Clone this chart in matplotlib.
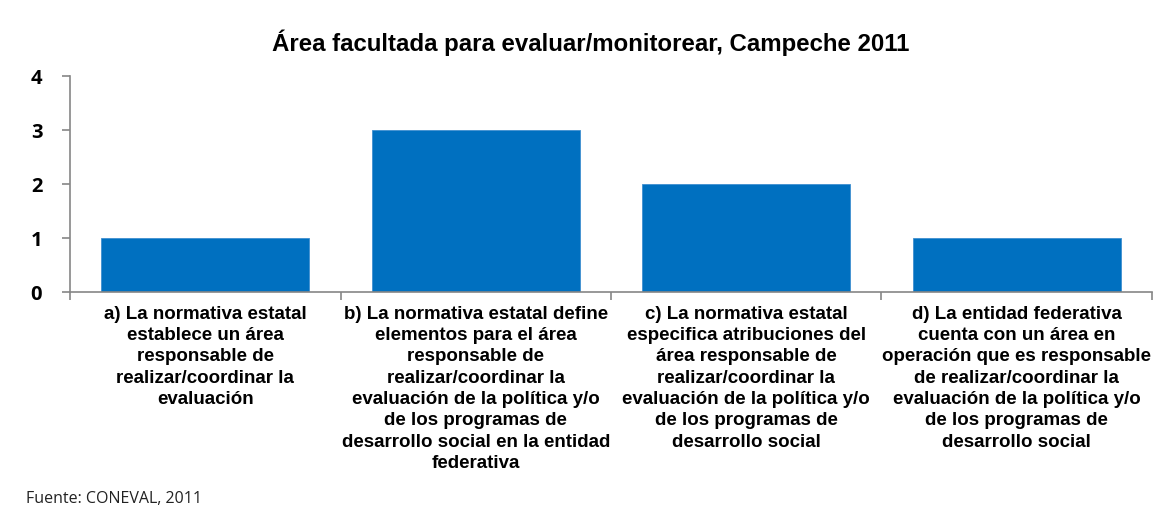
import numpy as np
import matplotlib
matplotlib.use("Agg")
import matplotlib.pyplot as plt

title = "Área facultada para evaluar/monitorear, Campeche 2011"
source = "Fuente: CONEVAL, 2011"
categories = [
    "a) La normativa estatal\nestablece un área\nresponsable de\nrealizar/coordinar la\nevaluación",
    "b) La normativa estatal define\nelementos para el área\nresponsable de\nrealizar/coordinar la\nevaluación de la política y/o\nde los programas de\ndesarrollo social en la entidad\nfederativa",
    "c) La normativa estatal\nespecifica atribuciones del\nárea responsable de\nrealizar/coordinar la\nevaluación de la política y/o\nde los programas de\ndesarrollo social",
    "d) La entidad federativa\ncuenta con un área en\noperación que es responsable\nde realizar/coordinar la\nevaluación de la política y/o\nde los programas de\ndesarrollo social",
]
values = [1, 3, 2, 1]
yticks = [0, 1, 2, 3, 4]

bar_color = "#0070C0"
axis_color = "#868686"

fig = plt.figure(figsize=(11.67, 5.14), dpi=100)
ax = fig.add_axes([0.06, 0.4319, 0.9271, 0.4202])

x = np.arange(len(values))
ax.bar(x, values, width=0.77, color=bar_color, edgecolor="#3F8FD0", linewidth=0.6, zorder=2)

ax.set_xlim(-0.5, len(values) - 0.5)
ax.set_ylim(0, 4)
ax.set_yticks(yticks)
ax.set_yticklabels([str(v) for v in yticks], family="Open Sans", fontweight="bold", fontsize=14.5)

# boundary ticks between categories, labels centred under bars
ax.set_xticks(np.arange(-0.5, len(values)), labels=[""] * (len(values) + 1))
ax.set_xticks(x, labels=categories, minor=True)
ax.tick_params(axis="x", which="minor", length=0, pad=10)
ax.tick_params(axis="x", which="major", length=6, color=axis_color, width=1.2)
ax.tick_params(axis="y", length=6, color=axis_color, width=1.2, pad=14)
for lbl in ax.get_xticklabels(minor=True):
    lbl.set_family("Liberation Sans")
    lbl.set_fontweight("bold")
    lbl.set_fontsize(13.5)
    lbl.set_linespacing(1.33)
    lbl.set_verticalalignment("top")

for side in ["top", "right"]:
    ax.spines[side].set_visible(False)
ax.spines["left"].set_color(axis_color)
ax.spines["bottom"].set_color(axis_color)
ax.spines["left"].set_linewidth(1.2)
ax.spines["bottom"].set_linewidth(1.2)

fig.text(0.506, 0.916, title, ha="center", va="center", family="Liberation Sans",
         fontweight="bold", fontsize=17.3)
fig.text(0.022, 0.029, source, ha="left", va="center", family="Open Sans",
         fontsize=11.5, color="#222222")

fig.savefig("out.png", dpi=100)
